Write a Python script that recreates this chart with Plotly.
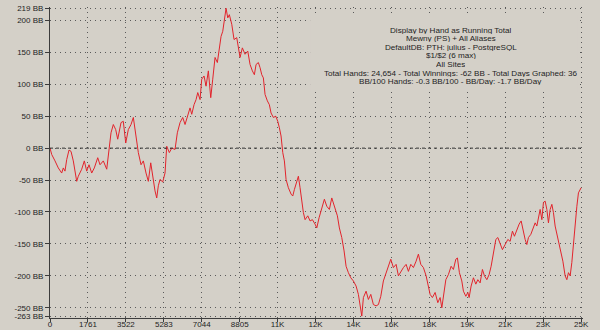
import plotly.graph_objects as go

# ---- data ----
hands = [0, 80, 232, 385, 543, 618, 696, 775, 882, 975, 1082, 1161, 1240, 1314, 1472, 1593, 1704, 1811, 1936, 2057,
         2215, 2322, 2475, 2633, 2707, 2832, 2939, 3050, 3143, 3297, 3403, 3515, 3635, 3761, 3868, 3979, 4100, 4225,
         4332, 4457, 4564, 4675, 4768, 4875, 4954, 5028, 5107, 5233, 5339, 5418, 5539, 5650, 5804, 5910, 6036, 6161,
         6268, 6393, 6500, 6579, 6686, 6779, 6858, 6965, 7043, 7150, 7243, 7350, 7461, 7554, 7661, 7768, 7861, 7940,
         8019, 8093, 8172, 8251, 8325, 8436, 8543, 8668, 8743, 8822, 8929, 9054, 9179, 9286, 9393, 9486, 9565, 9672,
         9750, 9829, 9904, 9982, 10089, 10182, 10261, 10368, 10479, 10572, 10646, 10725, 10804, 10879, 10957, 11064,
         11190, 11268, 11343, 11454, 11529, 11607, 11686, 11761, 11840, 11965, 12072, 12179, 12304, 12383, 12490,
         12615, 12736, 12847, 12968, 13079, 13200, 13339, 13432, 13543, 13650, 13743, 13850, 13961, 14082, 14208,
         14314, 14393, 14472, 14547, 14672, 14779, 14890, 15011, 15136, 15243, 15354, 15475, 15600, 15707, 15818,
         15939, 16065, 16172, 16283, 16404, 16529, 16636, 16747, 16868, 16993, 17100, 17211, 17332, 17458, 17564,
         17643, 17750, 17876, 18001, 18108, 18187, 18261, 18373, 18493, 18618, 18725, 18836, 18911, 19004, 19115,
         19190, 19301, 19394, 19454, 19547, 19654, 19765, 19858, 19965, 20072, 20165, 20276, 20383, 20476, 20583,
         20694, 20787, 20894, 21000, 21126, 21251, 21358, 21465, 21558, 21669, 21776, 21869, 21976, 22054, 22133,
         22208, 22319, 22412, 22519, 22597, 22672, 22751, 22830, 22904, 22983, 23062, 23136, 23215, 23294, 23368,
         23447, 23554, 23679, 23805, 23911, 23990, 24065, 24144, 24222, 24297, 24376, 24455, 24529, 24608, 24654]
running_bb = [0, -10, -20, -31, -39, -31, -36, -18, -3, -5, -20, -39, -52, -44, -33, -20, -36, -26, -39, -31,
              -15, -26, -20, -33, -10, 24, 37, 29, 14, 40, 42, 8, 29, 37, 48, 24, -7, -26,
              -20, -39, -52, -23, -44, -67, -78, -59, -49, -53, -39, 3, -7, 0, -2, 24, 40, 48,
              37, 53, 63, 53, 68, 76, 87, 76, 108, 113, 97, 121, 79, 108, 142, 134, 160, 175,
              183, 199, 219, 204, 209, 194, 170, 173, 160, 142, 157, 147, 152, 131, 121, 115, 131, 134,
              126, 115, 110, 84, 74, 68, 55, 48, 50, 42, 32, 19, -7, -20, -49, -62,
              -72, -75, -65, -54, -44, -62, -85, -101, -112, -106, -114, -112, -119, -125, -109,
              -96, -80, -91, -96, -78, -93, -106, -125, -140, -161, -185, -195, -203, -208, -216,
              -229, -247, -263, -234, -224, -237, -229, -245, -247, -245, -232, -208, -195, -182, -174,
              -187, -182, -200, -193, -187, -182, -193, -182, -187, -177, -166, -182, -187, -200, -216,
              -229, -234, -226, -242, -234, -250, -232, -206, -198, -185, -190, -174, -172, -195, -208,
              -224, -232, -226, -234, -216, -203, -213, -206, -211, -190, -200, -206, -198, -185, -164,
              -143, -140, -151, -159, -151, -143, -146, -130, -138, -127, -119, -114, -132, -143, -151,
              -140, -135, -125, -117, -122, -106, -96, -112, -85, -83, -96, -117, -96, -88, -101,
              -122, -138, -159, -177, -200, -206, -195, -200, -179, -148, -117, -91, -70, -63, -62]

x_tick_vals = [0, 1761, 3522, 5283, 7044, 8805, 10566, 12327, 14088, 15849, 17610, 19371, 21132, 22893, 24654]
x_tick_text = ["0", "1761", "3522", "5283", "7044", "8805", "11K", "12K", "14K", "16K", "18K", "19K", "21K", "23K", "25K"]
y_tick_vals = [219, 200, 150, 100, 50, 0, -50, -100, -150, -200, -250, -263]
y_tick_text = [f"{v} BB" for v in y_tick_vals]

info_lines = [
    "Display by Hand as Running Total",
    "Mewny (PS) + All Aliases",
    "DefaultDB: PTH: julius - PostgreSQL",
    "$1/$2 (6 max)",
    "All Sites",
    "Total Hands: 24,654 - Total Winnings: -62 BB - Total Days Graphed: 36",
    "BB/100 Hands: -0.3 BB/100 - BB/Day: -1.7 BB/Day",
]

BG = "#d4d0c8"
FONT = "Liberation Sans, Arial, sans-serif"
TXT = "#1e1e1e"

fig = go.Figure()
fig.add_trace(go.Scatter(x=hands, y=running_bb, mode="lines",
                         line=dict(color="#e2242c", width=1), hoverinfo="skip", showlegend=False))

fig.update_layout(
    width=600, height=330,
    margin=dict(l=50, r=17, t=7, b=12),
    paper_bgcolor=BG, plot_bgcolor=BG,
    font=dict(family=FONT, size=8, color=TXT),
    showlegend=False,
)
fig.update_xaxes(range=[0, 24740], tickmode="array", tickvals=x_tick_vals, ticktext=x_tick_text,
                 showgrid=True, gridcolor="#5a5a5a", griddash="1px,4px", gridwidth=1,
                 zeroline=False, showline=True, linecolor="#3c3c3c", linewidth=1,
                 ticks="outside", ticklen=3, tickcolor="#3c3c3c", automargin=False,
                 ticklabelstandoff=-5,
                 tickfont=dict(family=FONT, size=8, color=TXT))
fig.update_yaxes(range=[-266, 221], tickmode="array", tickvals=y_tick_vals, ticktext=y_tick_text,
                 showgrid=True, gridcolor="#5a5a5a", griddash="1px,4px", gridwidth=1,
                 zeroline=False, showline=True, linecolor="#3c3c3c", linewidth=1,
                 ticks="outside", ticklen=4, tickcolor="#3c3c3c", automargin=False,
                 tickfont=dict(family=FONT, size=8, color=TXT))

# zero reference line (dashed, darker)
fig.add_shape(type="line", xref="paper", yref="y", x0=0, x1=1, y0=0, y1=0,
              line=dict(color="#303030", width=1, dash="3px,3px"), layer="above")

# info box masking the grid
fig.add_shape(type="rect", xref="paper", yref="paper", x0=0.488, x1=0.99, y0=0.727, y1=0.975,
              fillcolor=BG, line=dict(width=0), layer="above")

top_px, step_px = 29.5, 8.6
for i, t in enumerate(info_lines):
    ypx = top_px + step_px * i
    fig.add_annotation(text=t, xref="paper", yref="paper", x=0.752, y=(318 - ypx) / 311,
                       xanchor="center", yanchor="middle", showarrow=False,
                       borderpad=0, height=8,
                       font=dict(family=FONT, size=8.1, color=TXT))

fig.write_html("out.html")
